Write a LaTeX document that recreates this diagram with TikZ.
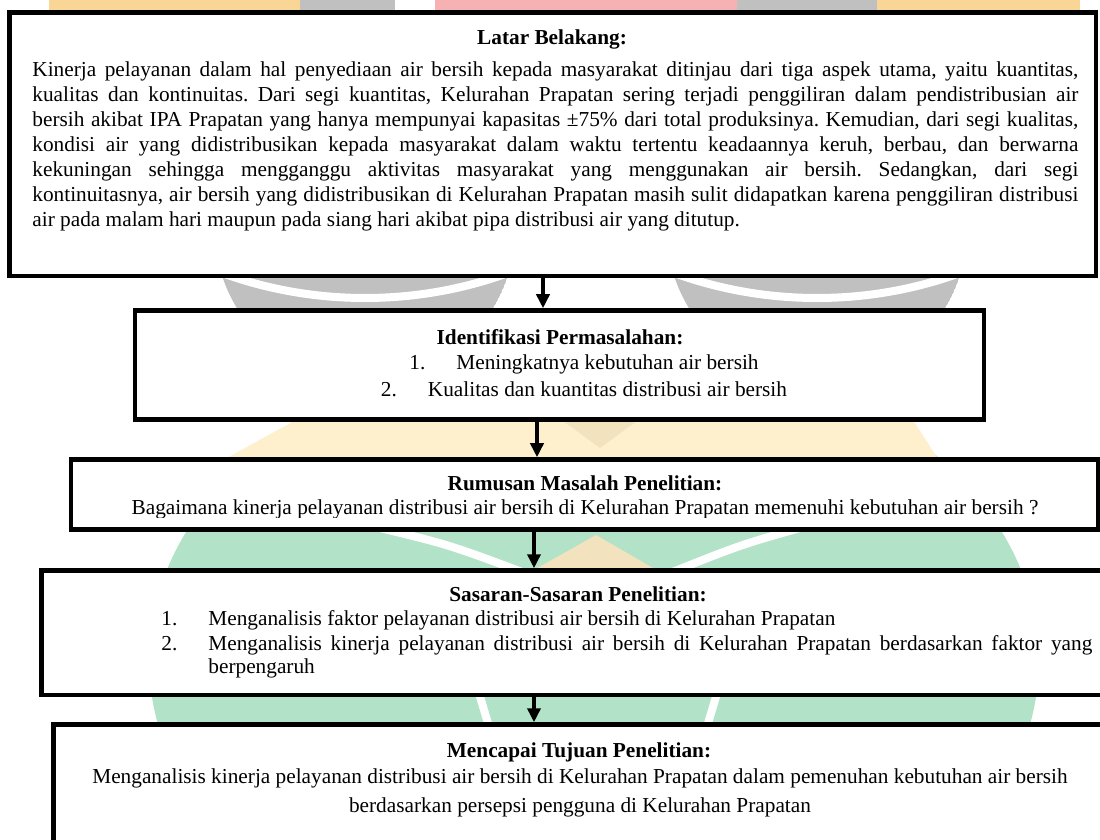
\documentclass[tikz,border=0pt]{standalone}
\usepackage{fontspec}
\setmainfont{Liberation Serif}
\usetikzlibrary{fit,arrows.meta}
\frenchspacing

\definecolor{wmgray}{RGB}{192,192,192}
\definecolor{wmpink}{RGB}{246,178,178}
\definecolor{wmorange}{RGB}{250,214,150}
\definecolor{wmyellow}{RGB}{255,240,205}
\definecolor{wmbeige}{RGB}{242,226,190}
\definecolor{wmgreen}{RGB}{178,226,200}

\tikzset{
  box/.style={draw, line width=2.25pt, fill=white, inner sep=0pt},
  ttl/.style={font=\fontsize{10.65}{12.5}\selectfont\bfseries, anchor=base, inner sep=0pt},
  txt/.style={font=\fontsize{10.65}{12.5}\selectfont, anchor=base, inner sep=0pt},
  arr/.style={line width=1.75pt, -{Triangle[width=6.5pt,length=7pt]}}
}

\begin{document}
\begin{tikzpicture}[x=0.5pt,y=-0.5pt]
  \clip (0,0) rectangle (1100,840);
  \useasboundingbox (0,0) rectangle (1100,840);

  % faded logo behind the boxes
  \fill[wmorange] (49,0) rectangle (300,14);
  \fill[wmgray] (300,0) rectangle (395,14);
  \fill[wmpink] (435,0) rectangle (737,14);
  \fill[wmgray] (737,0) rectangle (877,14);
  \fill[wmorange] (877,0) rectangle (1080,14);
  \foreach \cx in {365,817} {
    \begin{scope}
      \clip (\cx,230) circle (150);
      \fill[wmgray] (\cx,230) circle (150);
      \draw[white, line width=4pt] (\cx,-122) circle (420);
    \end{scope}
  }
  \fill[wmgreen] (594,660) ellipse (445 and 320);
  \fill[wmyellow] (305,415) -- (910,415) -- (945,470) -- (205,470) -- cycle;
  \fill[wmbeige] (555,415) -- (645,415) -- (600,448) -- cycle;
  \fill[wmbeige] (525,575) -- (665,575) -- (596,535) -- cycle;
  \draw[white, line width=4pt] (380,528) .. controls (450,545) .. (530,575);
  \draw[white, line width=4pt] (800,528) .. controls (740,545) .. (665,575);
  \draw[white, line width=4pt] (478,690) -- (490,730) (718,690) -- (706,730);

  % boxes
  \node[box, fit={(9.5,12.5) (1096,276)}] (lb) {};
  \node[box, fit={(135,310.5) (984,419.5)}] (id) {};
  \node[box, fit={(71,459.5) (1098,529.5)}] (rm) {};
  \node[box, fit={(41.5,570.5) (1117,695)}] (ss) {};
  \node[box, fit={(53.5,724.5) (1107,870)}] (mt) {};

  % Latar Belakang
  \node[ttl] (lbt) at (552,45) {Latar Belakang:};
  \node[txt, anchor=base west, text width=523pt, align=justify] (lbx) at (32,77) {Kinerja pelayanan dalam hal penyediaan air bersih kepada masyarakat ditinjau dari tiga aspek utama, yaitu kuantitas,\linebreak
    kualitas dan kontinuitas. Dari segi kuantitas, Kelurahan Prapatan sering terjadi penggiliran dalam pendistribusian air\linebreak
    bersih akibat IPA Prapatan yang hanya mempunyai kapasitas ±75\% dari total produksinya. Kemudian, dari segi kualitas,\linebreak
    kondisi air yang didistribusikan kepada masyarakat dalam waktu tertentu keadaannya keruh, berbau, dan berwarna\linebreak
    kekuningan sehingga mengganggu aktivitas masyarakat yang menggunakan air bersih. Sedangkan, dari segi\linebreak
    kontinuitasnya, air bersih yang didistribusikan di Kelurahan Prapatan masih sulit didapatkan karena penggiliran distribusi\linebreak
    air pada malam hari maupun pada siang hari akibat pipa distribusi air yang ditutup.};

  % Identifikasi
  \node[ttl] (idt) at (560,344) {Identifikasi Permasalahan:};
  \node[txt] (id1) at (584,370) {\makebox[23.5pt][l]{1.}Meningkatnya kebutuhan air bersih};
  \node[txt] (id2) at (584,397) {\makebox[23.5pt][l]{2.}Kualitas dan kuantitas distribusi air bersih};

  % Rumusan
  \node[ttl] (rmt) at (585,490) {Rumusan Masalah Penelitian:};
  \begin{scope}
    \clip (71,460) rectangle (1098,517);
    \node[txt] (rmx) at (585,515) {Bagaimana kinerja pelayanan distribusi air bersih di Kelurahan Prapatan memenuhi kebutuhan air bersih ?};
  \end{scope}

  % Sasaran
  \node[ttl] (sst) at (578,602) {Sasaran-Sasaran Penelitian:};
  \node[txt, anchor=base west] (ss1n) at (161,625) {1.};
  \node[txt, anchor=base west] (ss1) at (208,625) {Menganalisis faktor pelayanan distribusi air bersih di Kelurahan Prapatan};
  \node[txt, anchor=base west] (ss2n) at (161,650) {2.};
  \node[txt, anchor=base west, text width=442pt, align=justify, font=\fontsize{10.65}{11.75}\selectfont] (ss2) at (208,650) {Menganalisis kinerja pelayanan distribusi air bersih di Kelurahan Prapatan berdasarkan faktor yang\linebreak berpengaruh};

  % Tujuan
  \node[ttl] (mtt) at (579,757) {Mencapai Tujuan Penelitian:};
  \node[txt] (mt1) at (580,783) {Menganalisis kinerja pelayanan distribusi air bersih di Kelurahan Prapatan dalam pemenuhan kebutuhan air bersih};
  \node[txt] (mt2) at (580,812) {berdasarkan persepsi pengguna di Kelurahan Prapatan};

  \draw[arr] (lb.south -| 543,0) -- (id.north -| 543,0);
  \draw[arr] (id.south -| 537,0) -- (rm.north -| 537,0);
  \draw[arr] (rm.south -| 534,0) -- (ss.north -| 534,0);
  \draw[arr] (ss.south -| 534,0) -- (mt.north -| 534,0);
\end{tikzpicture}
\end{document}
